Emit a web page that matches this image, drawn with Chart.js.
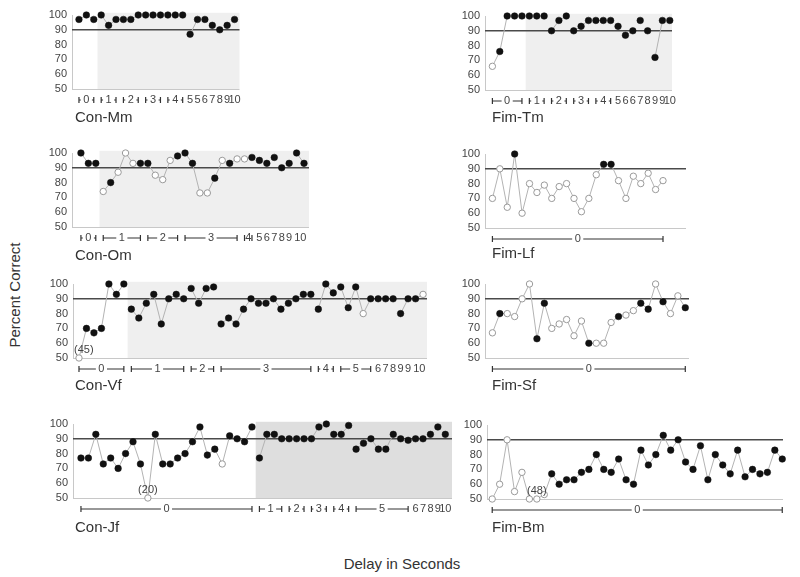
<!DOCTYPE html>
<html><head><meta charset="utf-8">
<script src="https://cdn.jsdelivr.net/npm/chart.js@4.4.1/dist/chart.umd.min.js"></script>
<style>
html,body{margin:0;padding:0;background:#fff;}
body{width:800px;height:577px;position:relative;overflow:hidden;font-family:"Liberation Sans",Arial,sans-serif;}
canvas{position:absolute;}
.title{position:absolute;font-size:15px;color:#333;white-space:nowrap;line-height:18px;}
.ylab{position:absolute;font-size:15px;color:#333;white-space:nowrap;transform:translate(-50%,-50%) rotate(-90deg);}
.xlab{position:absolute;font-size:15px;color:#333;white-space:nowrap;transform:translate(-50%,-50%);}
</style></head>
<body>
<div class="ylab" style="left:14px;top:295px;">Percent Correct</div>
<div class="xlab" style="left:402px;top:563px;">Delay in Seconds</div>
<script>
// ---------- DATA ----------
const conMmValues = [97,100,97,100,93,97,97,97,100,100,100,100,100,100,100,87,97,97,93,90,93,97];
const conMmHollow = [];
const conMmSegLabels = ['0','1','2','3','4','5','6','7','8','9','10'];
const conMmSegCounts = [3,3,3,3,3,2,1,1,1,1,1];
const conMmSegModes  = ['b','b','b','b','b','e','e','e','e','e','e'];

const fimTmValues = [66,76,100,100,100,100,100,100,90,97,100,90,93,97,97,97,97,93,87,90,97,90,72,97,97];
const fimTmHollow = [0];
const fimTmSegLabels = ['0','1','2','3','4','5','6','7','8','9','10'];
const fimTmSegCounts = [5,3,3,3,3,1,2,1,1,2,1];
const fimTmSegModes  = ['b','b','b','b','b','e','e','e','e','e','e'];

const conOmValues = [100,93,93,74,80,87,100,93,93,93,85,82,95,98,100,93,73,73,83,95,93,96,96,97,95,93,97,90,93,100,93];
const conOmHollow = [3,5,6,7,10,11,12,16,17,19,21,22];
const conOmSegLabels = ['0','1','2','3','4','5','6','7','8','9','10'];
const conOmSegCounts = [3,6,5,8,2,1,1,1,1,1,2];
const conOmSegModes  = ['b','b','b','b','b','e','e','e','e','e','c'];

const fimLfValues = [70,90,64,100,60,80,74,79,70,78,80,70,61,70,86,93,93,82,70,85,80,87,76,82];
const fimLfHollow = [0,1,2,4,5,6,7,8,9,10,11,12,13,14,17,18,19,20,21,22,23];
const fimLfSegLabels = ['0'];
const fimLfSegCounts = [24];
const fimLfSegModes  = ['b'];

const conVfValues = [45,70,67,70,100,93,100, 83,77,87,93,73,90,93,90, 97,87,97,98,
  73,77,73,83,90,87,87,90,83,87,90,93,93, 83,100,94, 98,84,98,80,90, 90,90,90, 80,90, 90,93];
const conVfHollow = [0,38,46];
const conVfSegLabels = ['0','1','2','3','4','5','6','7','8','9','10'];
const conVfSegCounts = [7,8,4,13,3,5,1,1,1,2,2];
const conVfSegModes  = ['b','b','b','b','b','b','e','e','e','e','c'];

const fimSfValues = [67,80,80,78,90,100,63,87,70,73,76,65,75,60,60,60,74,78,79,82,87,83,100,88,80,92,84];
const fimSfHollow = [0,2,3,4,5,8,9,10,11,12,14,15,16,18,19,22,24,25];
const fimSfSegLabels = ['0'];
const fimSfSegCounts = [27];
const fimSfSegModes  = ['b'];

const conJfValues = [77,77,93,73,77,70,80,88,73,20,93,73,73,77,80,88,98,79,83,73,92,90,88,98,
  77,93,93,90, 90,90,90, 90,98,100, 93,93,99, 83,87,90,83,83,93,90,89, 90,90,93,98,93];
const conJfHollow = [9,19];
const conJfSegLabels = ['0','1','2','3','4','5','6','7','8','9','10'];
const conJfSegCounts = [24,4,3,3,3,8,1,1,1,1,1];
const conJfSegModes  = ['b','b','b','b','b','b','e','e','e','e','e'];

const fimBmValues = [50,60,90,55,68,50,48,53,67,60,63,63,68,70,80,70,68,77,63,60,83,73,80,93,83,90,75,70,86,63,80,73,67,83,65,70,67,68,83,77];
const fimBmHollow = [0,1,2,3,4,5,6,7];
const fimBmSegLabels = ['0'];
const fimBmSegCounts = [40];
const fimBmSegModes  = ['b'];

const criterion = 90;

// ---------- LAYOUT ----------
const panels = [
  {name:'Con-Mm', v:conMmValues, h:conMmHollow, sl:conMmSegLabels, sc:conMmSegCounts, sm:conMmSegModes, shade:'#efefef',
   plotL:72, plotR:240, y100:15, xMin:-0.94, xMax:21.67, tx:75, ty:108},
  {name:'Fim-Tm', v:fimTmValues, h:fimTmHollow, sl:fimTmSegLabels, sc:fimTmSegCounts, sm:fimTmSegModes, shade:'#efefef',
   plotL:485, plotR:673, y100:16, xMin:-1.0, xMax:24.3, tx:492, ty:108},
  {name:'Con-Om', v:conOmValues, h:conOmHollow, sl:conOmSegLabels, sc:conOmSegCounts, sm:conOmSegModes, shade:'#efefef',
   plotL:72, plotR:310, y100:153, xMin:-1.2, xMax:30.67, tx:75, ty:246},
  {name:'Fim-Lf', v:fimLfValues, h:fimLfHollow, sl:fimLfSegLabels, sc:fimLfSegCounts, sm:fimLfSegModes, shade:null,
   plotL:485, plotR:687, y100:154, xMin:-1.0, xMax:26.1, tx:492, ty:244},
  {name:'Con-Vf', v:conVfValues, h:conVfHollow, sl:conVfSegLabels, sc:conVfSegCounts, sm:conVfSegModes, shade:'#efefef',
   plotL:73, plotR:428, y100:284, xMin:-0.8, xMax:46.53, tx:75, ty:376},
  {name:'Fim-Sf', v:fimSfValues, h:fimSfHollow, sl:fimSfSegLabels, sc:fimSfSegCounts, sm:fimSfSegModes, shade:null,
   plotL:485, plotR:690, y100:284, xMin:-1.0, xMax:26.5, tx:492, ty:376},
  {name:'Con-Jf', v:conJfValues, h:conJfHollow, sl:conJfSegLabels, sc:conJfSegCounts, sm:conJfSegModes, shade:'#dedede',
   plotL:73, plotR:453, y100:424, xMin:-1.07, xMax:49.9, tx:75, ty:518},
  {name:'Fim-Bm', v:fimBmValues, h:fimBmHollow, sl:fimBmSegLabels, sc:fimBmSegCounts, sm:fimBmSegModes, shade:null,
   plotL:487, plotR:784, y100:425, xMin:-0.7, xMax:39.1, tx:492, ty:518}
];

const FONT = '"Liberation Sans", Arial, sans-serif';
const AXW = 30, PADT = 12, PADB = 24, PADR = 4, PLOTH = 74;

panels.forEach(p => {
  const segs = []; let s = 0;
  p.sc.forEach((c, k) => { segs.push({label:p.sl[k], start:s, end:s+c-1, mode:p.sm[k]}); s += c; });
  const shown = v => Math.max(v, 50);
  const lineData = [];
  segs.forEach((sg, k) => {
    if (k > 0) lineData.push({x: sg.start - 0.5, y: null});
    for (let i = sg.start; i <= sg.end; i++) lineData.push({x: i, y: shown(p.v[i])});
  });
  const hollow = new Set(p.h);
  const filled = [], open = [];
  p.v.forEach((v, i) => (hollow.has(i) ? open : filled).push({x: i, y: shown(v)}));

  const W = p.plotR - p.plotL + AXW + PADR, H = PLOTH + PADT + PADB;
  const cv = document.createElement('canvas');
  cv.width = W; cv.height = H;
  cv.style.left = (p.plotL - AXW) + 'px'; cv.style.top = (p.y100 - PADT) + 'px';
  cv.style.width = W + 'px'; cv.style.height = H + 'px';
  document.body.appendChild(cv);

  const t = document.createElement('div');
  t.className = 'title'; t.textContent = p.name;
  t.style.left = p.tx + 'px'; t.style.top = p.ty + 'px';
  document.body.appendChild(t);

  const shadeFrom = p.shade ? segs[0].end + 0.5 : null;

  const deco = {
    id: 'deco',
    beforeDatasetsDraw(chart) {
      const {ctx, chartArea: a, scales: {x, y}} = chart;
      ctx.save();
      if (shadeFrom !== null) {
        ctx.fillStyle = p.shade;
        const x0 = x.getPixelForValue(shadeFrom), yt = y.getPixelForValue(101.5), yb = y.getPixelForValue(50);
        ctx.fillRect(x0, yt, a.right - x0, yb - yt);
      }
      ctx.strokeStyle = '#c8c8c8'; ctx.lineWidth = 1;
      const yb = Math.round(y.getPixelForValue(50)) + 0.5;
      ctx.beginPath(); ctx.moveTo(a.left, yb); ctx.lineTo(a.right, yb); ctx.stroke();
      ctx.strokeStyle = '#4a4a4a'; ctx.lineWidth = 1.6;
      const yc = y.getPixelForValue(criterion);
      ctx.beginPath(); ctx.moveTo(a.left, yc); ctx.lineTo(a.right, yc); ctx.stroke();
      ctx.restore();
    },
    afterDatasetsDraw(chart) {
      const {ctx, chartArea: a, scales: {x, y}} = chart;
      ctx.save();
      ctx.font = '11px ' + FONT;
      ctx.fillStyle = '#444';
      p.v.forEach((v, i) => {
        if (v < 50) {
          const txt = '(' + v + ')';
          const tw = ctx.measureText(txt).width;
          const px = Math.max(x.getPixelForValue(i), a.left + tw / 2 + 1);
          ctx.textAlign = 'center'; ctx.textBaseline = 'bottom';
          ctx.fillText(txt, px, y.getPixelForValue(50) - 3);
        }
      });
      const ly = a.bottom + 11;
      ctx.textBaseline = 'middle'; ctx.textAlign = 'center';
      ctx.strokeStyle = '#333'; ctx.lineWidth = 1.2;
      segs.forEach(sg => {
        const x1 = x.getPixelForValue(sg.start), x2 = x.getPixelForValue(sg.end);
        if (sg.mode === 'e') {
          for (let i = sg.start; i <= sg.end; i++) ctx.fillText(sg.label, x.getPixelForValue(i), ly);
        } else if (sg.mode === 'c') {
          ctx.fillText(sg.label, (x1 + x2) / 2, ly);
        } else {
          const mid = (x1 + x2) / 2, tw = ctx.measureText(sg.label).width;
          ctx.fillText(sg.label, mid, ly);
          const g1 = mid - tw / 2 - 2.5, g2 = mid + tw / 2 + 2.5;
          ctx.beginPath();
          if (g1 > x1) { ctx.moveTo(x1, ly); ctx.lineTo(g1, ly); }
          if (x2 > g2) { ctx.moveTo(g2, ly); ctx.lineTo(x2, ly); }
          ctx.moveTo(x1, ly - 3); ctx.lineTo(x1, ly + 3);
          ctx.moveTo(x2, ly - 3); ctx.lineTo(x2, ly + 3);
          ctx.stroke();
        }
      });
      ctx.restore();
    }
  };

  new Chart(cv, {
    type: 'scatter',
    data: {
      datasets: [
        {data: filled, pointRadius: 3.3, pointBackgroundColor: '#111', pointBorderColor: '#111', pointBorderWidth: 0.5, showLine: false, clip: false},
        {data: open, pointRadius: 3.2, pointBackgroundColor: '#fff', pointBorderColor: '#9a9a9a', pointBorderWidth: 1, showLine: false, clip: false},
        {data: lineData, showLine: true, spanGaps: false, pointRadius: 0, borderColor: '#b3b3b3', borderWidth: 1, clip: false}
      ]
    },
    options: {
      responsive: false, devicePixelRatio: 1, animation: false, events: [],
      layout: {padding: {top: PADT, bottom: PADB, right: PADR, left: 0}},
      plugins: {legend: {display: false}, tooltip: {enabled: false}},
      scales: {
        x: {type: 'linear', display: false, min: p.xMin, max: p.xMax},
        y: {
          min: 50, max: 100,
          ticks: {stepSize: 10, autoSkip: false, color: '#444', padding: 5, font: {size: 11, family: FONT}},
          grid: {display: false, drawTicks: false},
          border: {display: true, color: '#c8c8c8'},
          afterFit: sc => { sc.width = AXW; }
        }
      }
    },
    plugins: [deco]
  });
});
</script>
</body></html>
